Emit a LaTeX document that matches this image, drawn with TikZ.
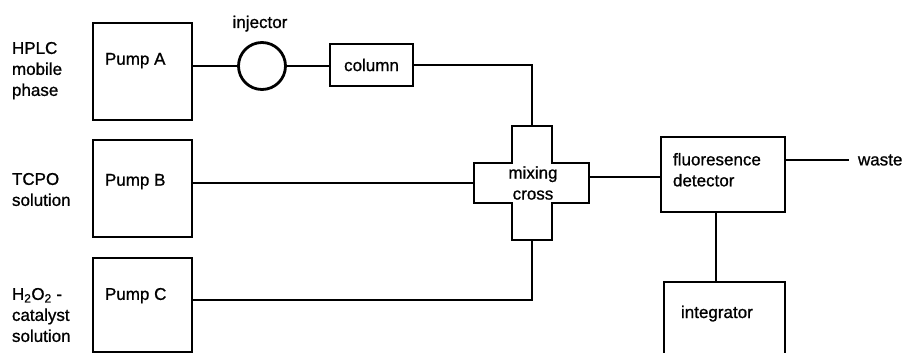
\documentclass[tikz,border=0pt]{standalone}
\usepackage{fontspec}
\setmainfont{Liberation Sans}[FakeBold=0.9]
\begin{document}
\begin{tikzpicture}[x=1pt,y=-1pt,
  unit/.style={draw, line width=2.8pt, inner sep=0pt, outer sep=0pt},
  pipe/.style={line width=2.3pt},
  txt/.style={inner sep=0pt, outer sep=0pt, font=\fontsize{17}{21}\selectfont, align=left}]
\clip (0,0) rectangle (906,353);
\fill[white] (0,0) rectangle (906,353);

% feed labels
\node[txt, anchor=north west] (feedA) at (12,42) {HPLC\\mobile\\phase};
\node[txt, anchor=north west] (feedB) at (12,173) {TCPO\\solution};
\node[txt, anchor=north west] (feedC) at (12,288) {H\textsubscript{2}O\textsubscript{2} -\\catalyst\\solution};

% pumps
\node[unit, minimum width=99pt, minimum height=97pt] (pumpA) at (142.5,71.5) {};
\node[unit, minimum width=99pt, minimum height=97pt] (pumpB) at (142.5,188.5) {};
\node[unit, minimum width=99pt, minimum height=94pt] (pumpC) at (142.5,305) {};
\node[txt, anchor=north west] (pumpAtxt) at (105,53) {Pump A};
\node[txt, anchor=north west] (pumpBtxt) at (105,174) {Pump B};
\node[txt, anchor=north west] (pumpCtxt) at (105,288) {Pump C};

% injector and column
\node[unit, circle, minimum size=47pt] (inj) at (262,66) {};
\node[txt, anchor=base] (injtxt) at (260,28) {injector};
\node[unit, minimum width=83pt, minimum height=42pt, font=\fontsize{17}{21}\selectfont] (column) at (371.5,65) {column};

% mixing cross (plus-shaped outline)
\draw[line width=2.8pt, line join=miter]
  (512,126) -- (552,126) -- (552,163) -- (589,163) -- (589,203) -- (552,203)
  -- (552,240) -- (512,240) -- (512,203) -- (474,203) -- (474,163) -- (512,163) -- cycle;
\coordinate (crossN) at (532,126);
\coordinate (crossS) at (532,240);
\coordinate (crossW) at (474,183);
\coordinate (crossE) at (589,177);
\node[txt, align=center] (crosstxt) at (533,183) {mixing\\cross};

% detector, integrator
\node[unit, minimum width=124pt, minimum height=75pt] (det) at (723,174.5) {};
\node[txt, anchor=north west] (dettxt) at (673,153) {fluoresence\\detector};
\node[unit, minimum width=121pt, minimum height=110pt] (integ) at (724.5,337) {};
\node[txt, anchor=base west] (integtxt) at (681,318) {integrator};

% bend points and outlet
\coordinate (bendA) at (crossN |- column.east);
\coordinate (bendC) at (532,300);
\coordinate (wasteEnd) at (849,160);
\node[txt, anchor=west] (waste) at (858,160) {waste};

% tubing
\draw[pipe] (pumpA.east |- inj.west) -- (inj.west);
\draw[pipe] (inj.east) -- (inj.east -| column.west);
\draw[pipe] (column.east) -- (bendA) -- (crossN);
\draw[pipe] (pumpB.east |- crossW) -- (crossW);
\draw[pipe] (pumpC.east |- bendC) -- (bendC) -- (crossS);
\draw[pipe] (crossE) -- (crossE -| det.west);
\draw[pipe] (det.east |- wasteEnd) -- (wasteEnd);
\draw[pipe] ([xshift=-7pt]det.south) -- ([xshift=-7pt]det.south |- integ.north);
\end{tikzpicture}
\end{document}
